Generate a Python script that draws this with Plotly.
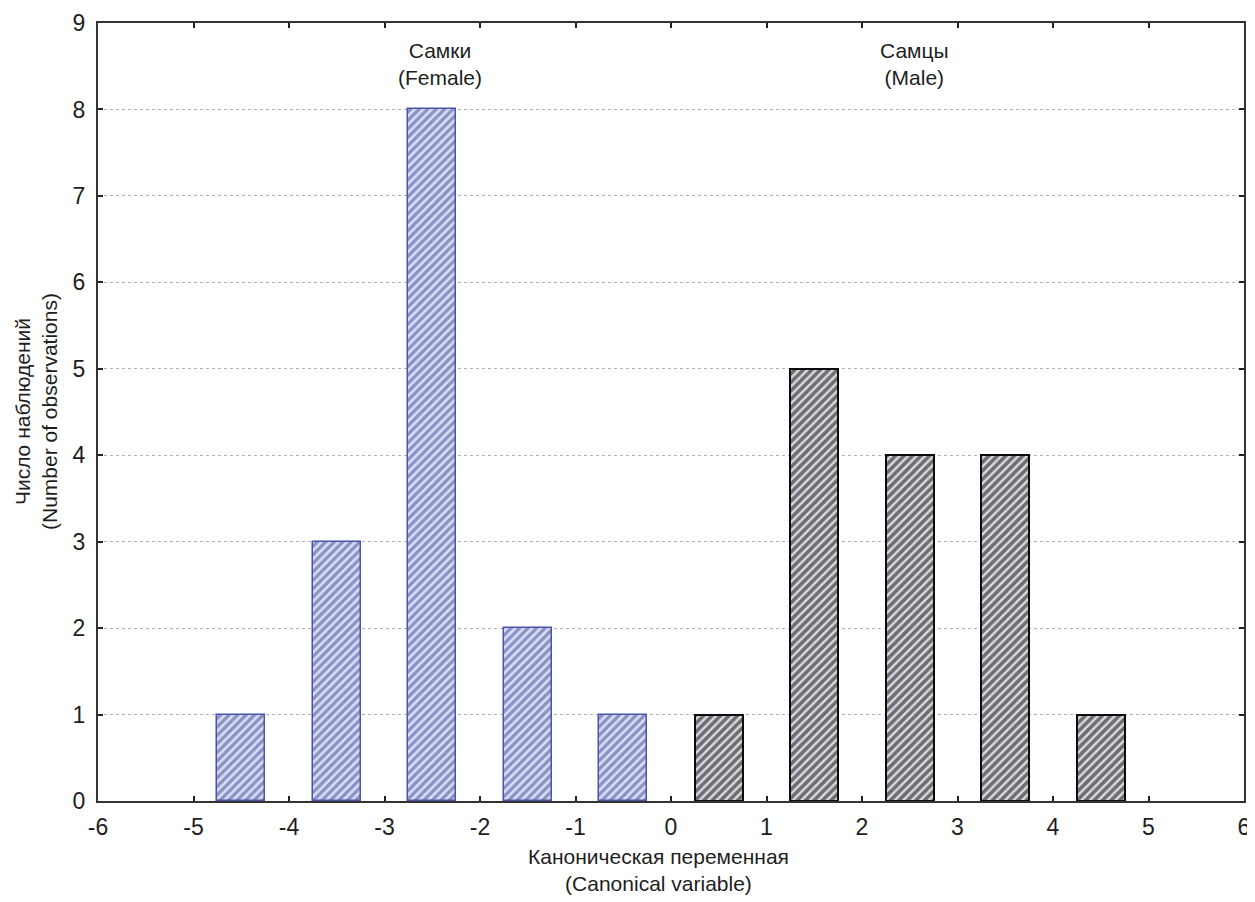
import plotly.graph_objects as go

# Data
female_x = [-4.5, -3.5, -2.5, -1.5, -0.5]
female_counts = [1, 3, 8, 2, 1]
male_x = [0.5, 1.5, 2.5, 3.5, 4.5]
male_counts = [1, 5, 4, 4, 1]
x_ticks = [-6, -5, -4, -3, -2, -1, 0, 1, 2, 3, 4, 5, 6]
x_tick_labels = ["-6", "-5", "-4", "-3", "-2", "-1", "0", "1", "2", "3", "4", "5", "6"]
y_ticks = [0, 1, 2, 3, 4, 5, 6, 7, 8, 9]
y_tick_labels = ["0", "1", "2", "3", "4", "5", "6", "7", "8", "9"]
group_labels = ["Самки<br>(Female)", "Самцы<br>(Male)"]
group_label_x = [-2.42, 2.55]

FONT = "Liberation Sans, Arial, sans-serif"
TXT = "#1e1e1e"

fig = go.Figure()
fig.add_trace(go.Bar(
    x=female_x, y=female_counts, width=0.5,
    marker=dict(
        color="#d8dcf0",
        line=dict(color="#4a54a8", width=1.5),
        pattern=dict(shape="/", fgcolor="#3a449c", bgcolor="#dadef2", size=6, solidity=0.55),
    ),
    showlegend=False,
))
fig.add_trace(go.Bar(
    x=male_x, y=male_counts, width=0.5,
    marker=dict(
        color="#d0d0d8",
        line=dict(color="#0d0d0d", width=2),
        pattern=dict(shape="/", fgcolor="#000000", bgcolor="#dcdce4", size=6, solidity=0.6),
    ),
    showlegend=False,
))

for gx, gt in zip(group_label_x, group_labels):
    fig.add_annotation(x=gx, y=8.53, xref="x", yref="y", text=gt, showarrow=False,
                       font=dict(family=FONT, size=21, color=TXT), yanchor="middle")

fig.add_annotation(x=0.489, y=0, xref="paper", yref="paper", yshift=-42,
                   text="Каноническая переменная<br>(Canonical variable)",
                   showarrow=False, yanchor="top",
                   font=dict(family=FONT, size=21, color=TXT))
fig.add_annotation(x=0, y=0.5, xref="paper", yref="paper", xshift=-62,
                   text="Число наблюдений<br>(Number of observations)",
                   showarrow=False, textangle=-90, xanchor="center",
                   font=dict(family=FONT, size=21, color=TXT))

fig.update_layout(
    width=1247, height=894,
    margin=dict(l=90, r=11, t=15, b=101, autoexpand=False),
    paper_bgcolor="white", plot_bgcolor="white",
    bargap=0,
    font=dict(family=FONT, size=23, color=TXT),
)
fig.update_xaxes(
    range=[-6, 6], tickvals=x_ticks, ticktext=x_tick_labels,
    ticks="inside", ticklen=5, tickwidth=2, tickcolor="#222",
    showline=True, linecolor="#333", linewidth=2, mirror="ticks",
    showgrid=False, zeroline=False, automargin=False, ticklabelstandoff=4,
    tickfont=dict(family=FONT, size=23, color=TXT),
)
fig.update_yaxes(
    range=[0, 9], tickvals=y_ticks, ticktext=y_tick_labels,
    ticks="inside", ticklen=5, tickwidth=2, tickcolor="#222",
    showline=True, linecolor="#333", linewidth=2, mirror="ticks",
    showgrid=True, gridcolor="#b8b0b0", griddash="dot", gridwidth=1,
    zeroline=False, automargin=False, ticklabelstandoff=6,
    tickfont=dict(family=FONT, size=23, color=TXT),
)

fig.write_html("out.html")
